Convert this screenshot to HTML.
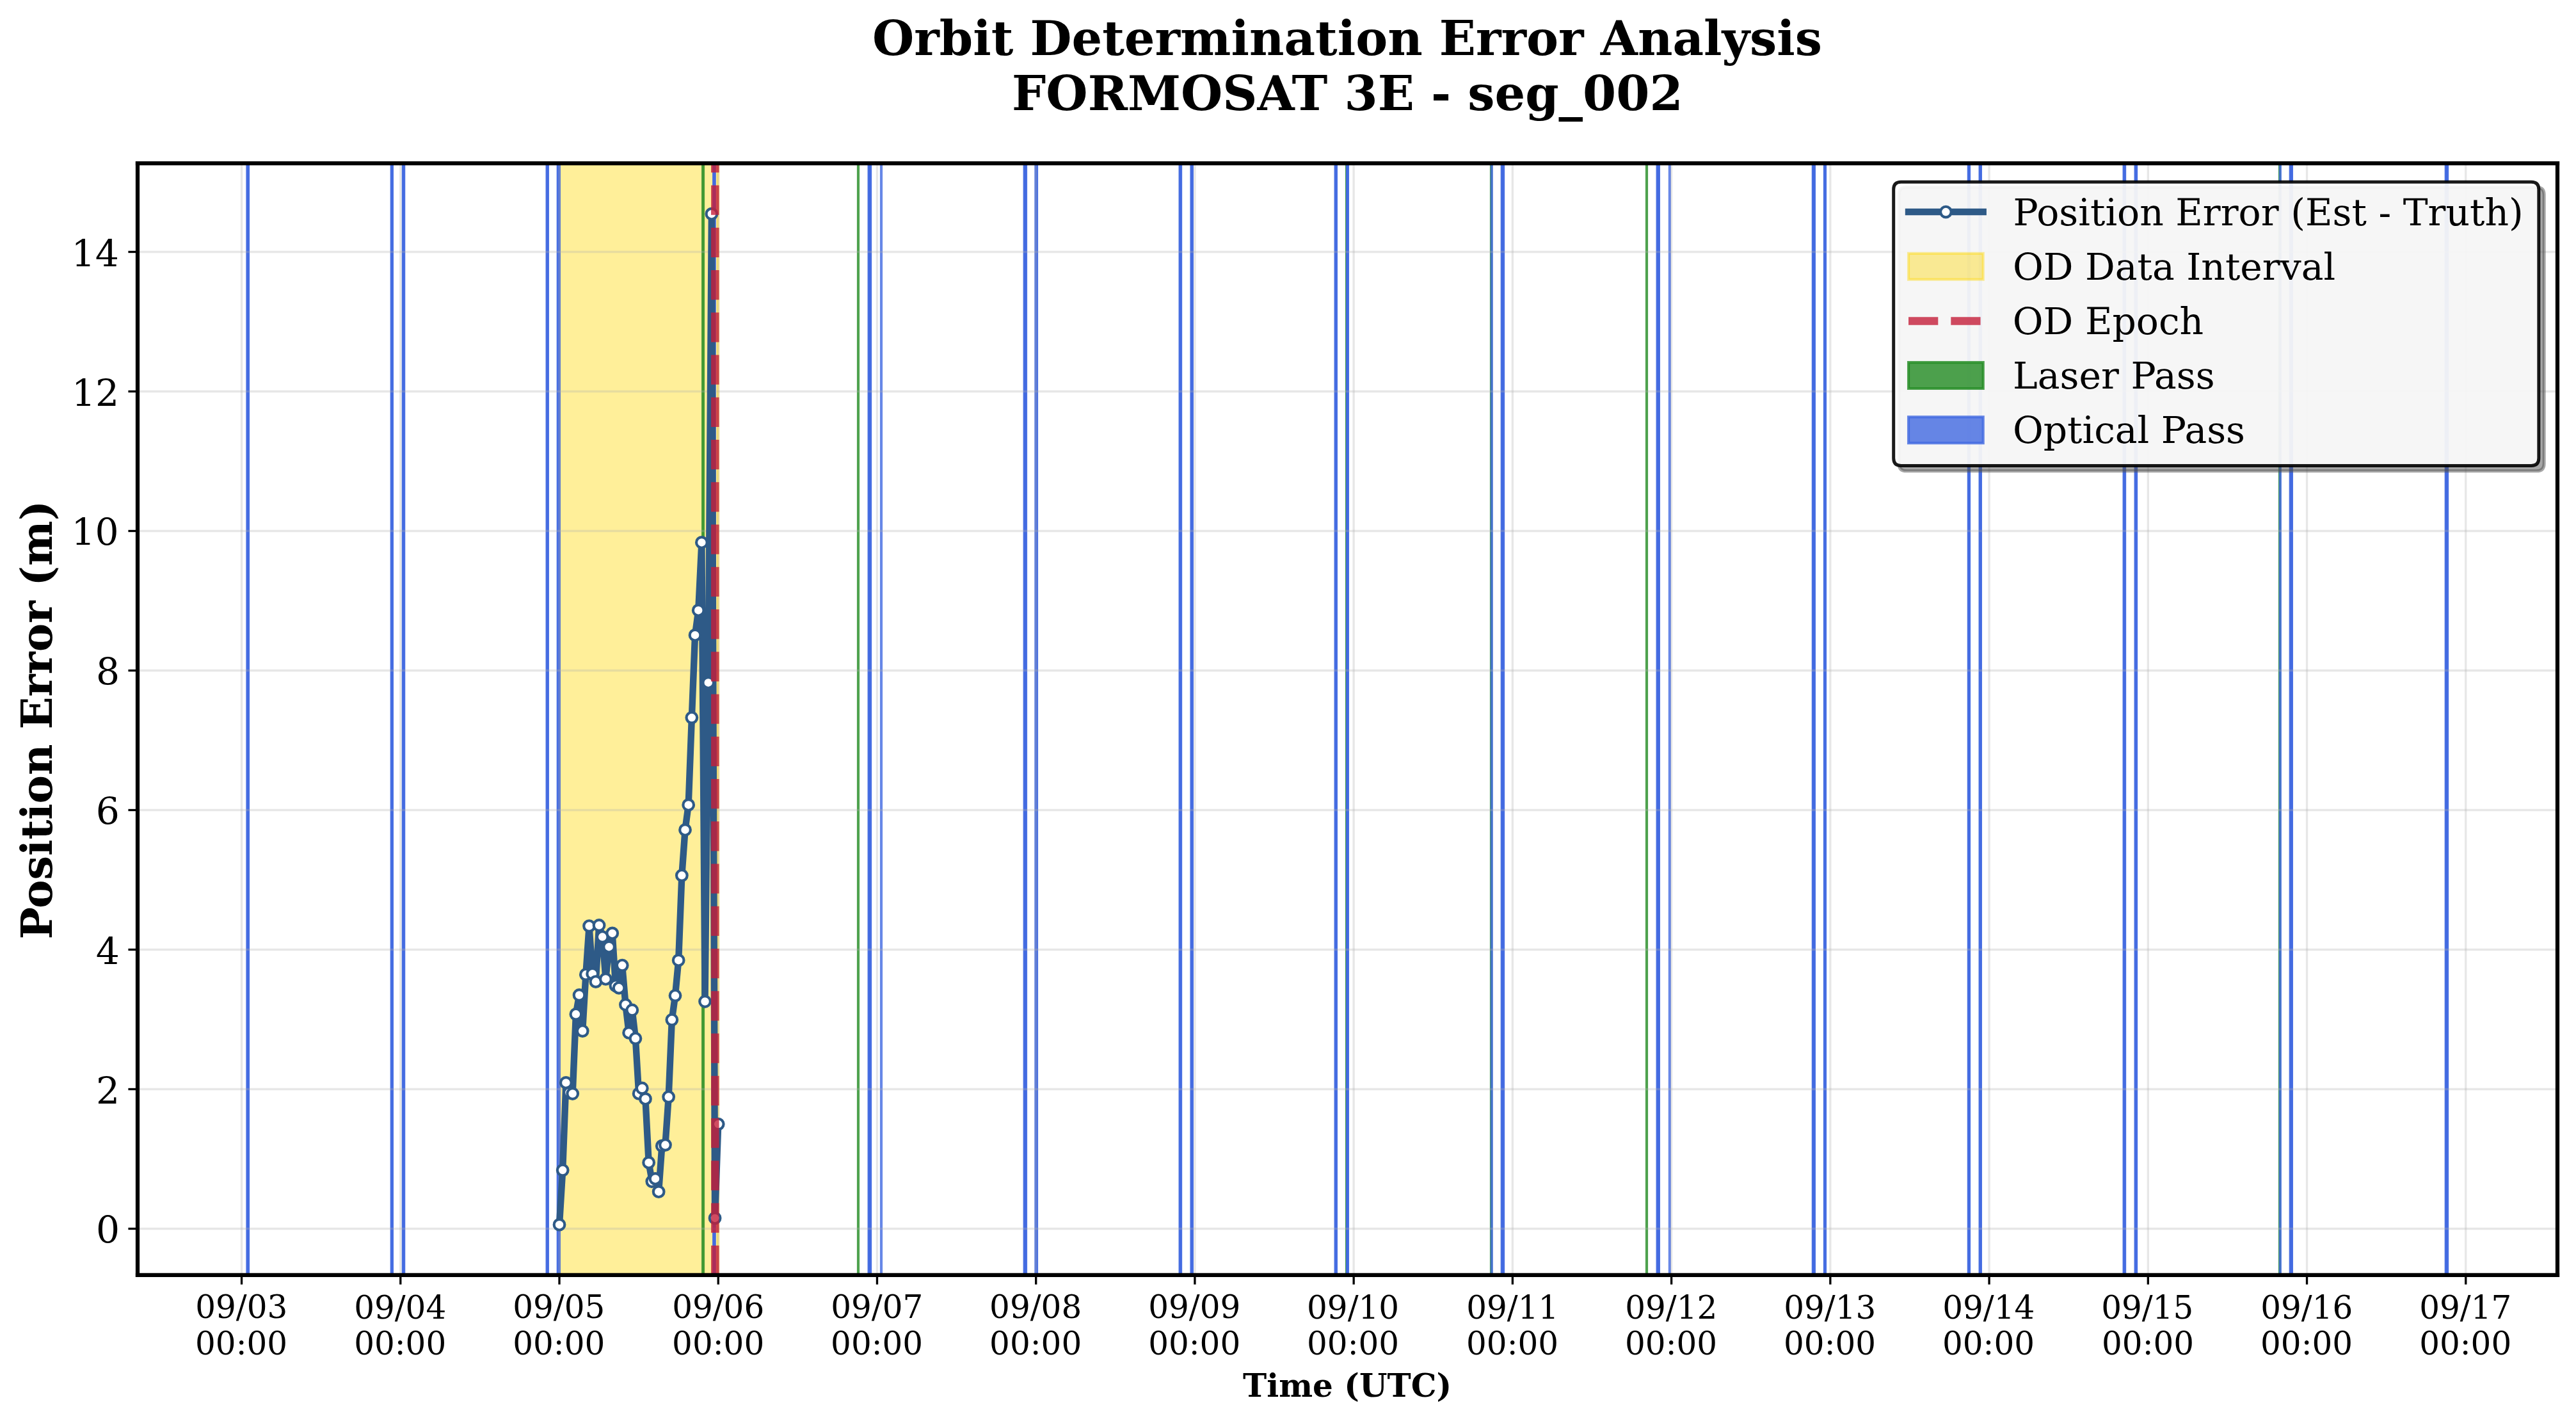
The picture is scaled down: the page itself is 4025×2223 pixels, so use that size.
<!DOCTYPE html>
<html><head><meta charset="utf-8"><title>Orbit Determination Error Analysis - FORMOSAT 3E - seg_002</title>
<style>html,body{margin:0;padding:0;background:#fff;}body{width:4025px;height:2223px;overflow:hidden;}svg{display:block;}</style>
</head><body>
<svg width="4025" height="2223" viewBox="0 0 966 533.52" version="1.1">
<defs>
<style type="text/css">*{stroke-linejoin: round; stroke-linecap: butt}</style>
</defs>
<g id="figure_1">
<g id="patch_1">
<path d="M 0 533.52
L 966 533.52
L 966 0
L 0 0
z
" style="fill: #ffffff"/>
</g>
<g id="axes_1">
<g id="patch_2">
<path d="M 51.6 478.08
L 959.04 478.08
L 959.04 61.2
L 51.6 61.2
z
" style="fill: #ffffff"/>
</g>
<g id="patch_3">
<path d="M 209.7624 478.08
L 269.3376 478.08
L 269.3376 61.2
L 209.7624 61.2
z
" clip-path="url(#pb68194b71a)" style="fill: #ffd700; fill-opacity: 0.4; stroke-opacity: 0.4; stroke: #ffd700; stroke-linejoin: miter"/>
</g>
<g id="patch_4">
<path d="M 263.54 478.08
L 263.764 478.08
L 263.764 61.2
L 263.54 61.2
z
" clip-path="url(#pb68194b71a)" style="fill: #228b22; fill-opacity: 0.8; stroke-opacity: 0.8; stroke: #228b22; stroke-linejoin: miter"/>
</g>
<g id="patch_5">
<path d="M 321.84 478.08
L 321.84 478.08
L 321.84 61.2
L 321.84 61.2
z
" clip-path="url(#pb68194b71a)" style="fill: #228b22; fill-opacity: 0.8; stroke-opacity: 0.8; stroke: #228b22; stroke-linejoin: miter"/>
</g>
<g id="patch_6">
<path d="M 504.96 478.08
L 504.96 478.08
L 504.96 61.2
L 504.96 61.2
z
" clip-path="url(#pb68194b71a)" style="fill: #228b22; fill-opacity: 0.8; stroke-opacity: 0.8; stroke: #228b22; stroke-linejoin: miter"/>
</g>
<g id="patch_7">
<path d="M 559.2 478.08
L 559.2 478.08
L 559.2 61.2
L 559.2 61.2
z
" clip-path="url(#pb68194b71a)" style="fill: #228b22; fill-opacity: 0.8; stroke-opacity: 0.8; stroke: #228b22; stroke-linejoin: miter"/>
</g>
<g id="patch_8">
<path d="M 617.52 478.08
L 617.52 478.08
L 617.52 61.2
L 617.52 61.2
z
" clip-path="url(#pb68194b71a)" style="fill: #228b22; fill-opacity: 0.8; stroke-opacity: 0.8; stroke: #228b22; stroke-linejoin: miter"/>
</g>
<g id="patch_9">
<path d="M 854.88 478.08
L 854.88 478.08
L 854.88 61.2
L 854.88 61.2
z
" clip-path="url(#pb68194b71a)" style="fill: #228b22; fill-opacity: 0.8; stroke-opacity: 0.8; stroke: #228b22; stroke-linejoin: miter"/>
</g>
<g id="patch_10">
<path d="M 92.792 478.08
L 93.112 478.08
L 93.112 61.2
L 92.792 61.2
z
" clip-path="url(#pb68194b71a)" style="fill: #4169e1; fill-opacity: 0.8; stroke-opacity: 0.8; stroke: #4169e1; stroke-linejoin: miter"/>
</g>
<g id="patch_11">
<path d="M 92.792 478.08
L 93.112 478.08
L 93.112 61.2
L 92.792 61.2
z
" clip-path="url(#pb68194b71a)" style="fill: #4169e1; fill-opacity: 0.8; stroke-opacity: 0.8; stroke: #4169e1; stroke-linejoin: miter"/>
</g>
<g id="patch_12">
<path d="M 146.852 478.08
L 147.1 478.08
L 147.1 61.2
L 146.852 61.2
z
" clip-path="url(#pb68194b71a)" style="fill: #4169e1; fill-opacity: 0.8; stroke-opacity: 0.8; stroke: #4169e1; stroke-linejoin: miter"/>
</g>
<g id="patch_13">
<path d="M 146.852 478.08
L 147.1 478.08
L 147.1 61.2
L 146.852 61.2
z
" clip-path="url(#pb68194b71a)" style="fill: #4169e1; fill-opacity: 0.8; stroke-opacity: 0.8; stroke: #4169e1; stroke-linejoin: miter"/>
</g>
<g id="patch_14">
<path d="M 151.184 478.08
L 151.456 478.08
L 151.456 61.2
L 151.184 61.2
z
" clip-path="url(#pb68194b71a)" style="fill: #4169e1; fill-opacity: 0.8; stroke-opacity: 0.8; stroke: #4169e1; stroke-linejoin: miter"/>
</g>
<g id="patch_15">
<path d="M 151.184 478.08
L 151.456 478.08
L 151.456 61.2
L 151.184 61.2
z
" clip-path="url(#pb68194b71a)" style="fill: #4169e1; fill-opacity: 0.8; stroke-opacity: 0.8; stroke: #4169e1; stroke-linejoin: miter"/>
</g>
<g id="patch_16">
<path d="M 205.148 478.08
L 205.396 478.08
L 205.396 61.2
L 205.148 61.2
z
" clip-path="url(#pb68194b71a)" style="fill: #4169e1; fill-opacity: 0.8; stroke-opacity: 0.8; stroke: #4169e1; stroke-linejoin: miter"/>
</g>
<g id="patch_17">
<path d="M 205.148 478.08
L 205.396 478.08
L 205.396 61.2
L 205.148 61.2
z
" clip-path="url(#pb68194b71a)" style="fill: #4169e1; fill-opacity: 0.8; stroke-opacity: 0.8; stroke: #4169e1; stroke-linejoin: miter"/>
</g>
<g id="patch_18">
<path d="M 209.252 478.08
L 209.74 478.08
L 209.74 61.2
L 209.252 61.2
z
" clip-path="url(#pb68194b71a)" style="fill: #4169e1; fill-opacity: 0.8; stroke-opacity: 0.8; stroke: #4169e1; stroke-linejoin: miter"/>
</g>
<g id="patch_19">
<path d="M 209.252 478.08
L 209.74 478.08
L 209.74 61.2
L 209.252 61.2
z
" clip-path="url(#pb68194b71a)" style="fill: #4169e1; fill-opacity: 0.8; stroke-opacity: 0.8; stroke: #4169e1; stroke-linejoin: miter"/>
</g>
<g id="patch_20">
<path d="M 267.656 478.08
L 267.976 478.08
L 267.976 61.2
L 267.656 61.2
z
" clip-path="url(#pb68194b71a)" style="fill: #4169e1; fill-opacity: 0.8; stroke-opacity: 0.8; stroke: #4169e1; stroke-linejoin: miter"/>
</g>
<g id="patch_21">
<path d="M 267.656 478.08
L 267.976 478.08
L 267.976 61.2
L 267.656 61.2
z
" clip-path="url(#pb68194b71a)" style="fill: #4169e1; fill-opacity: 0.8; stroke-opacity: 0.8; stroke: #4169e1; stroke-linejoin: miter"/>
</g>
<g id="patch_22">
<path d="M 325.868 478.08
L 326.404 478.08
L 326.404 61.2
L 325.868 61.2
z
" clip-path="url(#pb68194b71a)" style="fill: #4169e1; fill-opacity: 0.8; stroke-opacity: 0.8; stroke: #4169e1; stroke-linejoin: miter"/>
</g>
<g id="patch_23">
<path d="M 325.868 478.08
L 326.404 478.08
L 326.404 61.2
L 325.868 61.2
z
" clip-path="url(#pb68194b71a)" style="fill: #4169e1; fill-opacity: 0.8; stroke-opacity: 0.8; stroke: #4169e1; stroke-linejoin: miter"/>
</g>
<g id="patch_24">
<path d="M 330.48 478.08
L 330.48 478.08
L 330.48 61.2
L 330.48 61.2
z
" clip-path="url(#pb68194b71a)" style="fill: #4169e1; fill-opacity: 0.8; stroke-opacity: 0.8; stroke: #4169e1; stroke-linejoin: miter"/>
</g>
<g id="patch_25">
<path d="M 384.2 478.08
L 384.712 478.08
L 384.712 61.2
L 384.2 61.2
z
" clip-path="url(#pb68194b71a)" style="fill: #4169e1; fill-opacity: 0.8; stroke-opacity: 0.8; stroke: #4169e1; stroke-linejoin: miter"/>
</g>
<g id="patch_26">
<path d="M 384.2 478.08
L 384.712 478.08
L 384.712 61.2
L 384.2 61.2
z
" clip-path="url(#pb68194b71a)" style="fill: #4169e1; fill-opacity: 0.8; stroke-opacity: 0.8; stroke: #4169e1; stroke-linejoin: miter"/>
</g>
<g id="patch_27">
<path d="M 388.472 478.08
L 388.792 478.08
L 388.792 61.2
L 388.472 61.2
z
" clip-path="url(#pb68194b71a)" style="fill: #4169e1; fill-opacity: 0.8; stroke-opacity: 0.8; stroke: #4169e1; stroke-linejoin: miter"/>
</g>
<g id="patch_28">
<path d="M 388.472 478.08
L 388.792 478.08
L 388.792 61.2
L 388.472 61.2
z
" clip-path="url(#pb68194b71a)" style="fill: #4169e1; fill-opacity: 0.8; stroke-opacity: 0.8; stroke: #4169e1; stroke-linejoin: miter"/>
</g>
<g id="patch_29">
<path d="M 442.508 478.08
L 442.804 478.08
L 442.804 61.2
L 442.508 61.2
z
" clip-path="url(#pb68194b71a)" style="fill: #4169e1; fill-opacity: 0.8; stroke-opacity: 0.8; stroke: #4169e1; stroke-linejoin: miter"/>
</g>
<g id="patch_30">
<path d="M 442.508 478.08
L 442.804 478.08
L 442.804 61.2
L 442.508 61.2
z
" clip-path="url(#pb68194b71a)" style="fill: #4169e1; fill-opacity: 0.8; stroke-opacity: 0.8; stroke: #4169e1; stroke-linejoin: miter"/>
</g>
<g id="patch_31">
<path d="M 446.804 478.08
L 447.076 478.08
L 447.076 61.2
L 446.804 61.2
z
" clip-path="url(#pb68194b71a)" style="fill: #4169e1; fill-opacity: 0.8; stroke-opacity: 0.8; stroke: #4169e1; stroke-linejoin: miter"/>
</g>
<g id="patch_32">
<path d="M 446.804 478.08
L 447.076 478.08
L 447.076 61.2
L 446.804 61.2
z
" clip-path="url(#pb68194b71a)" style="fill: #4169e1; fill-opacity: 0.8; stroke-opacity: 0.8; stroke: #4169e1; stroke-linejoin: miter"/>
</g>
<g id="patch_33">
<path d="M 500.828 478.08
L 501.1 478.08
L 501.1 61.2
L 500.828 61.2
z
" clip-path="url(#pb68194b71a)" style="fill: #4169e1; fill-opacity: 0.8; stroke-opacity: 0.8; stroke: #4169e1; stroke-linejoin: miter"/>
</g>
<g id="patch_34">
<path d="M 500.828 478.08
L 501.1 478.08
L 501.1 61.2
L 500.828 61.2
z
" clip-path="url(#pb68194b71a)" style="fill: #4169e1; fill-opacity: 0.8; stroke-opacity: 0.8; stroke: #4169e1; stroke-linejoin: miter"/>
</g>
<g id="patch_35">
<path d="M 505.22 478.08
L 505.42 478.08
L 505.42 61.2
L 505.22 61.2
z
" clip-path="url(#pb68194b71a)" style="fill: #4169e1; fill-opacity: 0.8; stroke-opacity: 0.8; stroke: #4169e1; stroke-linejoin: miter"/>
</g>
<g id="patch_36">
<path d="M 505.22 478.08
L 505.42 478.08
L 505.42 61.2
L 505.22 61.2
z
" clip-path="url(#pb68194b71a)" style="fill: #4169e1; fill-opacity: 0.8; stroke-opacity: 0.8; stroke: #4169e1; stroke-linejoin: miter"/>
</g>
<g id="patch_37">
<path d="M 559.388 478.08
L 559.396 478.08
L 559.396 61.2
L 559.388 61.2
z
" clip-path="url(#pb68194b71a)" style="fill: #4169e1; fill-opacity: 0.8; stroke-opacity: 0.8; stroke: #4169e1; stroke-linejoin: miter"/>
</g>
<g id="patch_38">
<path d="M 563.252 478.08
L 563.764 478.08
L 563.764 61.2
L 563.252 61.2
z
" clip-path="url(#pb68194b71a)" style="fill: #4169e1; fill-opacity: 0.8; stroke-opacity: 0.8; stroke: #4169e1; stroke-linejoin: miter"/>
</g>
<g id="patch_39">
<path d="M 563.252 478.08
L 563.764 478.08
L 563.764 61.2
L 563.252 61.2
z
" clip-path="url(#pb68194b71a)" style="fill: #4169e1; fill-opacity: 0.8; stroke-opacity: 0.8; stroke: #4169e1; stroke-linejoin: miter"/>
</g>
<g id="patch_40">
<path d="M 621.548 478.08
L 622.06 478.08
L 622.06 61.2
L 621.548 61.2
z
" clip-path="url(#pb68194b71a)" style="fill: #4169e1; fill-opacity: 0.8; stroke-opacity: 0.8; stroke: #4169e1; stroke-linejoin: miter"/>
</g>
<g id="patch_41">
<path d="M 621.548 478.08
L 622.06 478.08
L 622.06 61.2
L 621.548 61.2
z
" clip-path="url(#pb68194b71a)" style="fill: #4169e1; fill-opacity: 0.8; stroke-opacity: 0.8; stroke: #4169e1; stroke-linejoin: miter"/>
</g>
<g id="patch_42">
<path d="M 626.124 478.08
L 626.124 478.08
L 626.124 61.2
L 626.124 61.2
z
" clip-path="url(#pb68194b71a)" style="fill: #4169e1; fill-opacity: 0.8; stroke-opacity: 0.8; stroke: #4169e1; stroke-linejoin: miter"/>
</g>
<g id="patch_43">
<path d="M 679.904 478.08
L 680.368 478.08
L 680.368 61.2
L 679.904 61.2
z
" clip-path="url(#pb68194b71a)" style="fill: #4169e1; fill-opacity: 0.8; stroke-opacity: 0.8; stroke: #4169e1; stroke-linejoin: miter"/>
</g>
<g id="patch_44">
<path d="M 679.904 478.08
L 680.368 478.08
L 680.368 61.2
L 679.904 61.2
z
" clip-path="url(#pb68194b71a)" style="fill: #4169e1; fill-opacity: 0.8; stroke-opacity: 0.8; stroke: #4169e1; stroke-linejoin: miter"/>
</g>
<g id="patch_45">
<path d="M 684.248 478.08
L 684.472 478.08
L 684.472 61.2
L 684.248 61.2
z
" clip-path="url(#pb68194b71a)" style="fill: #4169e1; fill-opacity: 0.8; stroke-opacity: 0.8; stroke: #4169e1; stroke-linejoin: miter"/>
</g>
<g id="patch_46">
<path d="M 684.248 478.08
L 684.472 478.08
L 684.472 61.2
L 684.248 61.2
z
" clip-path="url(#pb68194b71a)" style="fill: #4169e1; fill-opacity: 0.8; stroke-opacity: 0.8; stroke: #4169e1; stroke-linejoin: miter"/>
</g>
<g id="patch_47">
<path d="M 738.224 478.08
L 738.472 478.08
L 738.472 61.2
L 738.224 61.2
z
" clip-path="url(#pb68194b71a)" style="fill: #4169e1; fill-opacity: 0.8; stroke-opacity: 0.8; stroke: #4169e1; stroke-linejoin: miter"/>
</g>
<g id="patch_48">
<path d="M 738.224 478.08
L 738.472 478.08
L 738.472 61.2
L 738.224 61.2
z
" clip-path="url(#pb68194b71a)" style="fill: #4169e1; fill-opacity: 0.8; stroke-opacity: 0.8; stroke: #4169e1; stroke-linejoin: miter"/>
</g>
<g id="patch_49">
<path d="M 742.508 478.08
L 742.78 478.08
L 742.78 61.2
L 742.508 61.2
z
" clip-path="url(#pb68194b71a)" style="fill: #4169e1; fill-opacity: 0.8; stroke-opacity: 0.8; stroke: #4169e1; stroke-linejoin: miter"/>
</g>
<g id="patch_50">
<path d="M 742.508 478.08
L 742.78 478.08
L 742.78 61.2
L 742.508 61.2
z
" clip-path="url(#pb68194b71a)" style="fill: #4169e1; fill-opacity: 0.8; stroke-opacity: 0.8; stroke: #4169e1; stroke-linejoin: miter"/>
</g>
<g id="patch_51">
<path d="M 796.508 478.08
L 796.804 478.08
L 796.804 61.2
L 796.508 61.2
z
" clip-path="url(#pb68194b71a)" style="fill: #4169e1; fill-opacity: 0.8; stroke-opacity: 0.8; stroke: #4169e1; stroke-linejoin: miter"/>
</g>
<g id="patch_52">
<path d="M 796.508 478.08
L 796.804 478.08
L 796.804 61.2
L 796.508 61.2
z
" clip-path="url(#pb68194b71a)" style="fill: #4169e1; fill-opacity: 0.8; stroke-opacity: 0.8; stroke: #4169e1; stroke-linejoin: miter"/>
</g>
<g id="patch_53">
<path d="M 800.828 478.08
L 801.124 478.08
L 801.124 61.2
L 800.828 61.2
z
" clip-path="url(#pb68194b71a)" style="fill: #4169e1; fill-opacity: 0.8; stroke-opacity: 0.8; stroke: #4169e1; stroke-linejoin: miter"/>
</g>
<g id="patch_54">
<path d="M 800.828 478.08
L 801.124 478.08
L 801.124 61.2
L 800.828 61.2
z
" clip-path="url(#pb68194b71a)" style="fill: #4169e1; fill-opacity: 0.8; stroke-opacity: 0.8; stroke: #4169e1; stroke-linejoin: miter"/>
</g>
<g id="patch_55">
<path d="M 855.092 478.08
L 855.1 478.08
L 855.1 61.2
L 855.092 61.2
z
" clip-path="url(#pb68194b71a)" style="fill: #4169e1; fill-opacity: 0.8; stroke-opacity: 0.8; stroke: #4169e1; stroke-linejoin: miter"/>
</g>
<g id="patch_56">
<path d="M 858.932 478.08
L 859.42 478.08
L 859.42 61.2
L 858.932 61.2
z
" clip-path="url(#pb68194b71a)" style="fill: #4169e1; fill-opacity: 0.8; stroke-opacity: 0.8; stroke: #4169e1; stroke-linejoin: miter"/>
</g>
<g id="patch_57">
<path d="M 858.932 478.08
L 859.42 478.08
L 859.42 61.2
L 858.932 61.2
z
" clip-path="url(#pb68194b71a)" style="fill: #4169e1; fill-opacity: 0.8; stroke-opacity: 0.8; stroke: #4169e1; stroke-linejoin: miter"/>
</g>
<g id="patch_58">
<path d="M 917.252 478.08
L 917.764 478.08
L 917.764 61.2
L 917.252 61.2
z
" clip-path="url(#pb68194b71a)" style="fill: #4169e1; fill-opacity: 0.8; stroke-opacity: 0.8; stroke: #4169e1; stroke-linejoin: miter"/>
</g>
<g id="patch_59">
<path d="M 917.252 478.08
L 917.764 478.08
L 917.764 61.2
L 917.252 61.2
z
" clip-path="url(#pb68194b71a)" style="fill: #4169e1; fill-opacity: 0.8; stroke-opacity: 0.8; stroke: #4169e1; stroke-linejoin: miter"/>
</g>
<g id="matplotlib.axis_1">
<g id="xtick_1">
<g id="line2d_1">
<path d="M 90.612 478.08
L 90.612 61.2
" clip-path="url(#pb68194b71a)" style="fill: none; stroke: #b0b0b0; stroke-opacity: 0.3; stroke-width: 0.8; stroke-linecap: square"/>
</g>
<g id="line2d_2">
<g>
<path d="M 0 0
L 0 3.5
" transform="translate(90.612 478.08)" style="stroke: #000000; stroke-width: 0.8"/>
</g>
</g>
<g id="xt0">
<g transform="translate(-0.1080 -0.2400)"><text style="font-size: 12px; font-family: 'DejaVu Serif', serif" transform="translate(73.347 494.30875)">09/03</text></g>
<g transform="translate(-0.1320 -0.2400)"><text style="font-size: 12px; font-family: 'DejaVu Serif', serif" transform="translate(73.347 508.02325)">00:00</text></g>
</g>
</g>
<g id="xtick_2">
<g id="line2d_3">
<path d="M 150.1872 478.08
L 150.1872 61.2
" clip-path="url(#pb68194b71a)" style="fill: none; stroke: #b0b0b0; stroke-opacity: 0.3; stroke-width: 0.8; stroke-linecap: square"/>
</g>
<g id="line2d_4">
<g>
<path d="M 0 0
L 0 3.5
" transform="translate(150.1872 478.08)" style="stroke: #000000; stroke-width: 0.8"/>
</g>
</g>
<g id="xt1">
<g transform="translate(-0.1680 -0.0000)"><text style="font-size: 12px; font-family: 'DejaVu Serif', serif" transform="translate(132.9222 494.30875)">09/04</text></g>
<g transform="translate(-0.1680 -0.2400)"><text style="font-size: 12px; font-family: 'DejaVu Serif', serif" transform="translate(132.9222 508.02325)">00:00</text></g>
</g>
</g>
<g id="xtick_3">
<g id="line2d_5">
<path d="M 209.7624 478.08
L 209.7624 61.2
" clip-path="url(#pb68194b71a)" style="fill: none; stroke: #b0b0b0; stroke-opacity: 0.3; stroke-width: 0.8; stroke-linecap: square"/>
</g>
<g id="line2d_6">
<g>
<path d="M 0 0
L 0 3.5
" transform="translate(209.7624 478.08)" style="stroke: #000000; stroke-width: 0.8"/>
</g>
</g>
<g id="xt2">
<g transform="translate(-0.1920 -0.2400)"><text style="font-size: 12px; font-family: 'DejaVu Serif', serif" transform="translate(192.4824 494.30875)">09/05</text></g>
<g transform="translate(-0.2160 -0.2400)"><text style="font-size: 12px; font-family: 'DejaVu Serif', serif" transform="translate(192.4974 508.02325)">00:00</text></g>
</g>
</g>
<g id="xtick_4">
<g id="line2d_7">
<path d="M 269.3376 478.08
L 269.3376 61.2
" clip-path="url(#pb68194b71a)" style="fill: none; stroke: #b0b0b0; stroke-opacity: 0.3; stroke-width: 0.8; stroke-linecap: square"/>
</g>
<g id="line2d_8">
<g>
<path d="M 0 0
L 0 3.5
" transform="translate(269.3376 478.08)" style="stroke: #000000; stroke-width: 0.8"/>
</g>
</g>
<g id="xt3">
<g transform="translate(-0.0360 -0.2400)"><text style="font-size: 12px; font-family: 'DejaVu Serif', serif" transform="translate(252.0726 494.30875)">09/06</text></g>
<g transform="translate(-0.0480 -0.2400)"><text style="font-size: 12px; font-family: 'DejaVu Serif', serif" transform="translate(252.0726 508.02325)">00:00</text></g>
</g>
</g>
<g id="xtick_5">
<g id="line2d_9">
<path d="M 328.9128 478.08
L 328.9128 61.2
" clip-path="url(#pb68194b71a)" style="fill: none; stroke: #b0b0b0; stroke-opacity: 0.3; stroke-width: 0.8; stroke-linecap: square"/>
</g>
<g id="line2d_10">
<g>
<path d="M 0 0
L 0 3.5
" transform="translate(328.9128 478.08)" style="stroke: #000000; stroke-width: 0.8"/>
</g>
</g>
<g id="xt4">
<g transform="translate(-0.0720 -0.2400)"><text style="font-size: 12px; font-family: 'DejaVu Serif', serif" transform="translate(311.6328 494.30875)">09/07</text></g>
<g transform="translate(-0.1080 -0.2400)"><text style="font-size: 12px; font-family: 'DejaVu Serif', serif" transform="translate(311.6478 508.02325)">00:00</text></g>
</g>
</g>
<g id="xtick_6">
<g id="line2d_11">
<path d="M 388.488 478.08
L 388.488 61.2
" clip-path="url(#pb68194b71a)" style="fill: none; stroke: #b0b0b0; stroke-opacity: 0.3; stroke-width: 0.8; stroke-linecap: square"/>
</g>
<g id="line2d_12">
<g>
<path d="M 0 0
L 0 3.5
" transform="translate(388.488 478.08)" style="stroke: #000000; stroke-width: 0.8"/>
</g>
</g>
<g id="xt5">
<g transform="translate(-0.1440 -0.2400)"><text style="font-size: 12px; font-family: 'DejaVu Serif', serif" transform="translate(371.208 494.30875)">09/08</text></g>
<g transform="translate(-0.1560 -0.2400)"><text style="font-size: 12px; font-family: 'DejaVu Serif', serif" transform="translate(371.223 508.02325)">00:00</text></g>
</g>
</g>
<g id="xtick_7">
<g id="line2d_13">
<path d="M 448.0632 478.08
L 448.0632 61.2
" clip-path="url(#pb68194b71a)" style="fill: none; stroke: #b0b0b0; stroke-opacity: 0.3; stroke-width: 0.8; stroke-linecap: square"/>
</g>
<g id="line2d_14">
<g>
<path d="M 0 0
L 0 3.5
" transform="translate(448.0632 478.08)" style="stroke: #000000; stroke-width: 0.8"/>
</g>
</g>
<g id="xt6">
<g transform="translate(-0.1920 -0.2400)"><text style="font-size: 12px; font-family: 'DejaVu Serif', serif" transform="translate(430.7982 494.30875)">09/09</text></g>
<g transform="translate(-0.2040 -0.2400)"><text style="font-size: 12px; font-family: 'DejaVu Serif', serif" transform="translate(430.7982 508.02325)">00:00</text></g>
</g>
</g>
<g id="xtick_8">
<g id="line2d_15">
<path d="M 507.6384 478.08
L 507.6384 61.2
" clip-path="url(#pb68194b71a)" style="fill: none; stroke: #b0b0b0; stroke-opacity: 0.3; stroke-width: 0.8; stroke-linecap: square"/>
</g>
<g id="line2d_16">
<g>
<path d="M 0 0
L 0 3.5
" transform="translate(507.6384 478.08)" style="stroke: #000000; stroke-width: 0.8"/>
</g>
</g>
<g id="xt7">
<g transform="translate(-0.2760 -0.0000)"><text style="font-size: 12px; font-family: 'DejaVu Serif', serif" transform="translate(490.3584 494.30875)">09/10</text></g>
<g transform="translate(-0.2880 -0.2400)"><text style="font-size: 12px; font-family: 'DejaVu Serif', serif" transform="translate(490.3734 508.02325)">00:00</text></g>
</g>
</g>
<g id="xtick_9">
<g id="line2d_17">
<path d="M 567.2136 478.08
L 567.2136 61.2
" clip-path="url(#pb68194b71a)" style="fill: none; stroke: #b0b0b0; stroke-opacity: 0.3; stroke-width: 0.8; stroke-linecap: square"/>
</g>
<g id="line2d_18">
<g>
<path d="M 0 0
L 0 3.5
" transform="translate(567.2136 478.08)" style="stroke: #000000; stroke-width: 0.8"/>
</g>
</g>
<g id="xt8">
<g transform="translate(-0.0360 -0.0000)"><text style="font-size: 12px; font-family: 'DejaVu Serif', serif" transform="translate(549.9186 494.30875)">09/11</text></g>
<g transform="translate(-0.1080 -0.2400)"><text style="font-size: 12px; font-family: 'DejaVu Serif', serif" transform="translate(549.9486 508.02325)">00:00</text></g>
</g>
</g>
<g id="xtick_10">
<g id="line2d_19">
<path d="M 626.7888 478.08
L 626.7888 61.2
" clip-path="url(#pb68194b71a)" style="fill: none; stroke: #b0b0b0; stroke-opacity: 0.3; stroke-width: 0.8; stroke-linecap: square"/>
</g>
<g id="line2d_20">
<g>
<path d="M 0 0
L 0 3.5
" transform="translate(626.7888 478.08)" style="stroke: #000000; stroke-width: 0.8"/>
</g>
</g>
<g id="xt9">
<g transform="translate(-0.0960 -0.0000)"><text style="font-size: 12px; font-family: 'DejaVu Serif', serif" transform="translate(609.5088 494.30875)">09/12</text></g>
<g transform="translate(-0.1560 -0.2400)"><text style="font-size: 12px; font-family: 'DejaVu Serif', serif" transform="translate(609.5238 508.02325)">00:00</text></g>
</g>
</g>
<g id="xtick_11">
<g id="line2d_21">
<path d="M 686.364 478.08
L 686.364 61.2
" clip-path="url(#pb68194b71a)" style="fill: none; stroke: #b0b0b0; stroke-opacity: 0.3; stroke-width: 0.8; stroke-linecap: square"/>
</g>
<g id="line2d_22">
<g>
<path d="M 0 0
L 0 3.5
" transform="translate(686.364 478.08)" style="stroke: #000000; stroke-width: 0.8"/>
</g>
</g>
<g id="xt10">
<g transform="translate(-0.1560 -0.0000)"><text style="font-size: 12px; font-family: 'DejaVu Serif', serif" transform="translate(669.084 494.30875)">09/13</text></g>
<g transform="translate(-0.2040 -0.2400)"><text style="font-size: 12px; font-family: 'DejaVu Serif', serif" transform="translate(669.099 508.02325)">00:00</text></g>
</g>
</g>
<g id="xtick_12">
<g id="line2d_23">
<path d="M 745.9392 478.08
L 745.9392 61.2
" clip-path="url(#pb68194b71a)" style="fill: none; stroke: #b0b0b0; stroke-opacity: 0.3; stroke-width: 0.8; stroke-linecap: square"/>
</g>
<g id="line2d_24">
<g>
<path d="M 0 0
L 0 3.5
" transform="translate(745.9392 478.08)" style="stroke: #000000; stroke-width: 0.8"/>
</g>
</g>
<g id="xt11">
<g transform="translate(-0.2160 -0.0000)"><text style="font-size: 12px; font-family: 'DejaVu Serif', serif" transform="translate(728.6592 494.30875)">09/14</text></g>
<g transform="translate(-0.2760 -0.2400)"><text style="font-size: 12px; font-family: 'DejaVu Serif', serif" transform="translate(728.6742 508.02325)">00:00</text></g>
</g>
</g>
<g id="xtick_13">
<g id="line2d_25">
<path d="M 805.5144 478.08
L 805.5144 61.2
" clip-path="url(#pb68194b71a)" style="fill: none; stroke: #b0b0b0; stroke-opacity: 0.3; stroke-width: 0.8; stroke-linecap: square"/>
</g>
<g id="line2d_26">
<g>
<path d="M 0 0
L 0 3.5
" transform="translate(805.5144 478.08)" style="stroke: #000000; stroke-width: 0.8"/>
</g>
</g>
<g id="xt12">
<g transform="translate(-0.2640 -0.0000)"><text style="font-size: 12px; font-family: 'DejaVu Serif', serif" transform="translate(788.2194 494.30875)">09/15</text></g>
<g transform="translate(-0.0840 -0.2400)"><text style="font-size: 12px; font-family: 'DejaVu Serif', serif" transform="translate(788.2494 508.02325)">00:00</text></g>
</g>
</g>
<g id="xtick_14">
<g id="line2d_27">
<path d="M 865.0896 478.08
L 865.0896 61.2
" clip-path="url(#pb68194b71a)" style="fill: none; stroke: #b0b0b0; stroke-opacity: 0.3; stroke-width: 0.8; stroke-linecap: square"/>
</g>
<g id="line2d_28">
<g>
<path d="M 0 0
L 0 3.5
" transform="translate(865.0896 478.08)" style="stroke: #000000; stroke-width: 0.8"/>
</g>
</g>
<g id="xt13">
<g transform="translate(-0.0720 -0.0000)"><text style="font-size: 12px; font-family: 'DejaVu Serif', serif" transform="translate(847.8096 494.30875)">09/16</text></g>
<g transform="translate(-0.1320 -0.2400)"><text style="font-size: 12px; font-family: 'DejaVu Serif', serif" transform="translate(847.8246 508.02325)">00:00</text></g>
</g>
</g>
<g id="xtick_15">
<g id="line2d_29">
<path d="M 924.6648 478.08
L 924.6648 61.2
" clip-path="url(#pb68194b71a)" style="fill: none; stroke: #b0b0b0; stroke-opacity: 0.3; stroke-width: 0.8; stroke-linecap: square"/>
</g>
<g id="line2d_30">
<g>
<path d="M 0 0
L 0 3.5
" transform="translate(924.6648 478.08)" style="stroke: #000000; stroke-width: 0.8"/>
</g>
</g>
<g id="xt14">
<g transform="translate(-0.1320 -0.0000)"><text style="font-size: 12px; font-family: 'DejaVu Serif', serif" transform="translate(907.3698 494.30875)">09/17</text></g>
<g transform="translate(-0.1680 -0.2400)"><text style="font-size: 12px; font-family: 'DejaVu Serif', serif" transform="translate(907.3998 508.02325)">00:00</text></g>
</g>
</g>
<g id="xl">
<g transform="translate(-0.0960 -0.0120)"><text style="font-weight: 700; font-size: 12px; font-family: 'DejaVu Serif', serif; text-anchor: middle" x="505.32" y="523.78325" transform="rotate(-0 505.32 523.78325)">Time (UTC)</text></g>
</g>
</g>
<g id="matplotlib.axis_2">
<g id="ytick_1">
<g id="line2d_31">
<path d="M 51.6 460.68
L 959.04 460.68
" clip-path="url(#pb68194b71a)" style="fill: none; stroke: #b0b0b0; stroke-opacity: 0.3; stroke-width: 0.8; stroke-linecap: square"/>
</g>
<g id="line2d_32">
<g>
<path d="M 0 0
L -3.5 0
" transform="translate(51.6 460.68)" style="stroke: #000000; stroke-width: 0.8"/>
</g>
</g>
<g id="yt0">
<g transform="translate(0.2880 -0.0000)"><text style="font-size: 14px; font-family: 'DejaVu Serif', serif; text-anchor: end" x="44.6" y="465.96" transform="rotate(-0 44.6 465.96)">0</text></g>
</g>
</g>
<g id="ytick_2">
<g id="line2d_33">
<path d="M 51.6 408.36
L 959.04 408.36
" clip-path="url(#pb68194b71a)" style="fill: none; stroke: #b0b0b0; stroke-opacity: 0.3; stroke-width: 0.8; stroke-linecap: square"/>
</g>
<g id="line2d_34">
<g>
<path d="M 0 0
L -3.5 0
" transform="translate(51.6 408.36)" style="stroke: #000000; stroke-width: 0.8"/>
</g>
</g>
<g id="yt1">
<g transform="translate(0.3000 0.2160)"><text style="font-size: 14px; font-family: 'DejaVu Serif', serif; text-anchor: end" x="44.6" y="413.64" transform="rotate(-0 44.6 413.64)">2</text></g>
</g>
</g>
<g id="ytick_3">
<g id="line2d_35">
<path d="M 51.6 356.04
L 959.04 356.04
" clip-path="url(#pb68194b71a)" style="fill: none; stroke: #b0b0b0; stroke-opacity: 0.3; stroke-width: 0.8; stroke-linecap: square"/>
</g>
<g id="line2d_36">
<g>
<path d="M 0 0
L -3.5 0
" transform="translate(51.6 356.04)" style="stroke: #000000; stroke-width: 0.8"/>
</g>
</g>
<g id="yt2">
<g transform="translate(0.2760 0.1920)"><text style="font-size: 14px; font-family: 'DejaVu Serif', serif; text-anchor: end" x="44.6" y="361.32" transform="rotate(-0 44.6 361.32)">4</text></g>
</g>
</g>
<g id="ytick_4">
<g id="line2d_37">
<path d="M 51.6 303.72
L 959.04 303.72
" clip-path="url(#pb68194b71a)" style="fill: none; stroke: #b0b0b0; stroke-opacity: 0.3; stroke-width: 0.8; stroke-linecap: square"/>
</g>
<g id="line2d_38">
<g>
<path d="M 0 0
L -3.5 0
" transform="translate(51.6 303.72)" style="stroke: #000000; stroke-width: 0.8"/>
</g>
</g>
<g id="yt3">
<g transform="translate(0.2760 -0.1920)"><text style="font-size: 14px; font-family: 'DejaVu Serif', serif; text-anchor: end" x="44.6" y="309" transform="rotate(-0 44.6 309)">6</text></g>
</g>
</g>
<g id="ytick_5">
<g id="line2d_39">
<path d="M 51.6 251.4
L 959.04 251.4
" clip-path="url(#pb68194b71a)" style="fill: none; stroke: #b0b0b0; stroke-opacity: 0.3; stroke-width: 0.8; stroke-linecap: square"/>
</g>
<g id="line2d_40">
<g>
<path d="M 0 0
L -3.5 0
" transform="translate(51.6 251.4)" style="stroke: #000000; stroke-width: 0.8"/>
</g>
</g>
<g id="yt4">
<g transform="translate(0.2880 -0.0000)"><text style="font-size: 14px; font-family: 'DejaVu Serif', serif; text-anchor: end" x="44.6" y="256.68" transform="rotate(-0 44.6 256.68)">8</text></g>
</g>
</g>
<g id="ytick_6">
<g id="line2d_41">
<path d="M 51.6 199.08
L 959.04 199.08
" clip-path="url(#pb68194b71a)" style="fill: none; stroke: #b0b0b0; stroke-opacity: 0.3; stroke-width: 0.8; stroke-linecap: square"/>
</g>
<g id="line2d_42">
<g>
<path d="M 0 0
L -3.5 0
" transform="translate(51.6 199.08)" style="stroke: #000000; stroke-width: 0.8"/>
</g>
</g>
<g id="yt5">
<g transform="translate(-0.0360 -0.2280)"><text style="font-size: 14px; font-family: 'DejaVu Serif', serif; text-anchor: end" x="44.6" y="204.36" transform="rotate(-0 44.6 204.36)">10</text></g>
</g>
</g>
<g id="ytick_7">
<g id="line2d_43">
<path d="M 51.6 146.76
L 959.04 146.76
" clip-path="url(#pb68194b71a)" style="fill: none; stroke: #b0b0b0; stroke-opacity: 0.3; stroke-width: 0.8; stroke-linecap: square"/>
</g>
<g id="line2d_44">
<g>
<path d="M 0 0
L -3.5 0
" transform="translate(51.6 146.76)" style="stroke: #000000; stroke-width: 0.8"/>
</g>
</g>
<g id="yt6">
<g transform="translate(0.0720 0.2400)"><text style="font-size: 14px; font-family: 'DejaVu Serif', serif; text-anchor: end" x="44.6" y="152.04" transform="rotate(-0 44.6 152.04)">12</text></g>
</g>
</g>
<g id="ytick_8">
<g id="line2d_45">
<path d="M 51.6 94.44
L 959.04 94.44
" clip-path="url(#pb68194b71a)" style="fill: none; stroke: #b0b0b0; stroke-opacity: 0.3; stroke-width: 0.8; stroke-linecap: square"/>
</g>
<g id="line2d_46">
<g>
<path d="M 0 0
L -3.5 0
" transform="translate(51.6 94.44)" style="stroke: #000000; stroke-width: 0.8"/>
</g>
</g>
<g id="yt7">
<g transform="translate(-0.0000 0.0120)"><text style="font-size: 14px; font-family: 'DejaVu Serif', serif; text-anchor: end" x="44.6" y="99.72" transform="rotate(-0 44.6 99.72)">14</text></g>
</g>
</g>
<g id="yl">
<g transform="translate(0.0240 0.2640)"><text style="font-weight: 700; font-size: 16px; font-family: 'DejaVu Serif', serif; text-anchor: middle" x="19.45" y="269.64" transform="rotate(-90 19.45 269.64)">Position Error (m)</text></g>
</g>
</g>
<g id="line2d_47">
<path d="M 209.7624 459.168
L 211.00355 438.744
L 212.2447 405.936
L 213.48585 409.68
L 214.727 410.04
L 215.96815 380.232
L 217.2093 373.08
L 218.45045 386.544
L 219.6916 365.352
L 220.93275 347.184
L 222.1739 365.088
L 223.41505 368.064
L 224.6562 346.92
L 225.89735 351.264
L 227.1385 367.056
L 228.37965 355.008
L 229.6208 349.896
L 230.86195 369.552
L 232.1031 370.392
L 233.34425 361.944
L 234.5854 376.68
L 235.82655 387.216
L 237.0677 378.72
L 238.30885 389.352
L 239.55 410.016
L 240.79115 408
L 242.0323 412.008
L 243.27345 435.888
L 244.5146 442.944
L 245.75575 441.936
L 246.9969 446.808
L 248.23805 429.648
L 249.4792 429.264
L 250.72035 411.264
L 251.9615 382.344
L 253.20265 373.272
L 254.4438 360.048
L 255.68495 328.224
L 256.9261 311.136
L 258.16725 301.776
L 259.4084 269.064
L 260.64955 238.128
L 261.8907 228.816
L 263.13185 203.376
L 264.373 375.48
L 265.61415 255.936
L 266.8553 80.208
L 268.09645 456.696
L 269.3376 421.464
" clip-path="url(#pb68194b71a)" style="fill: none; stroke: #2e5a87; stroke-width: 2.5; stroke-linecap: square"/>
<g clip-path="url(#pb68194b71a)">
<path d="M 0 2
C 0.530406 2 1.03916 1.789267 1.414214 1.414214
C 1.789267 1.03916 2 0.530406 2 0
C 2 -0.530406 1.789267 -1.03916 1.414214 -1.414214
C 1.03916 -1.789267 0.530406 -2 0 -2
C -0.530406 -2 -1.03916 -1.789267 -1.414214 -1.414214
C -1.789267 -1.03916 -2 -0.530406 -2 0
C -2 0.530406 -1.789267 1.03916 -1.414214 1.414214
C -1.03916 1.789267 -0.530406 2 0 2
z
" transform="translate(209.7624 459.168)" style="fill: #ffffff; stroke: #2e5a87"/>
<path d="M 0 2
C 0.530406 2 1.03916 1.789267 1.414214 1.414214
C 1.789267 1.03916 2 0.530406 2 0
C 2 -0.530406 1.789267 -1.03916 1.414214 -1.414214
C 1.03916 -1.789267 0.530406 -2 0 -2
C -0.530406 -2 -1.03916 -1.789267 -1.414214 -1.414214
C -1.789267 -1.03916 -2 -0.530406 -2 0
C -2 0.530406 -1.789267 1.03916 -1.414214 1.414214
C -1.03916 1.789267 -0.530406 2 0 2
z
" transform="translate(211.00355 438.744)" style="fill: #ffffff; stroke: #2e5a87"/>
<path d="M 0 2
C 0.530406 2 1.03916 1.789267 1.414214 1.414214
C 1.789267 1.03916 2 0.530406 2 0
C 2 -0.530406 1.789267 -1.03916 1.414214 -1.414214
C 1.03916 -1.789267 0.530406 -2 0 -2
C -0.530406 -2 -1.03916 -1.789267 -1.414214 -1.414214
C -1.789267 -1.03916 -2 -0.530406 -2 0
C -2 0.530406 -1.789267 1.03916 -1.414214 1.414214
C -1.03916 1.789267 -0.530406 2 0 2
z
" transform="translate(212.2447 405.936)" style="fill: #ffffff; stroke: #2e5a87"/>
<path d="M 0 2
C 0.530406 2 1.03916 1.789267 1.414214 1.414214
C 1.789267 1.03916 2 0.530406 2 0
C 2 -0.530406 1.789267 -1.03916 1.414214 -1.414214
C 1.03916 -1.789267 0.530406 -2 0 -2
C -0.530406 -2 -1.03916 -1.789267 -1.414214 -1.414214
C -1.789267 -1.03916 -2 -0.530406 -2 0
C -2 0.530406 -1.789267 1.03916 -1.414214 1.414214
C -1.03916 1.789267 -0.530406 2 0 2
z
" transform="translate(213.48585 409.68)" style="fill: #ffffff; stroke: #2e5a87"/>
<path d="M 0 2
C 0.530406 2 1.03916 1.789267 1.414214 1.414214
C 1.789267 1.03916 2 0.530406 2 0
C 2 -0.530406 1.789267 -1.03916 1.414214 -1.414214
C 1.03916 -1.789267 0.530406 -2 0 -2
C -0.530406 -2 -1.03916 -1.789267 -1.414214 -1.414214
C -1.789267 -1.03916 -2 -0.530406 -2 0
C -2 0.530406 -1.789267 1.03916 -1.414214 1.414214
C -1.03916 1.789267 -0.530406 2 0 2
z
" transform="translate(214.727 410.04)" style="fill: #ffffff; stroke: #2e5a87"/>
<path d="M 0 2
C 0.530406 2 1.03916 1.789267 1.414214 1.414214
C 1.789267 1.03916 2 0.530406 2 0
C 2 -0.530406 1.789267 -1.03916 1.414214 -1.414214
C 1.03916 -1.789267 0.530406 -2 0 -2
C -0.530406 -2 -1.03916 -1.789267 -1.414214 -1.414214
C -1.789267 -1.03916 -2 -0.530406 -2 0
C -2 0.530406 -1.789267 1.03916 -1.414214 1.414214
C -1.03916 1.789267 -0.530406 2 0 2
z
" transform="translate(215.96815 380.232)" style="fill: #ffffff; stroke: #2e5a87"/>
<path d="M 0 2
C 0.530406 2 1.03916 1.789267 1.414214 1.414214
C 1.789267 1.03916 2 0.530406 2 0
C 2 -0.530406 1.789267 -1.03916 1.414214 -1.414214
C 1.03916 -1.789267 0.530406 -2 0 -2
C -0.530406 -2 -1.03916 -1.789267 -1.414214 -1.414214
C -1.789267 -1.03916 -2 -0.530406 -2 0
C -2 0.530406 -1.789267 1.03916 -1.414214 1.414214
C -1.03916 1.789267 -0.530406 2 0 2
z
" transform="translate(217.2093 373.08)" style="fill: #ffffff; stroke: #2e5a87"/>
<path d="M 0 2
C 0.530406 2 1.03916 1.789267 1.414214 1.414214
C 1.789267 1.03916 2 0.530406 2 0
C 2 -0.530406 1.789267 -1.03916 1.414214 -1.414214
C 1.03916 -1.789267 0.530406 -2 0 -2
C -0.530406 -2 -1.03916 -1.789267 -1.414214 -1.414214
C -1.789267 -1.03916 -2 -0.530406 -2 0
C -2 0.530406 -1.789267 1.03916 -1.414214 1.414214
C -1.03916 1.789267 -0.530406 2 0 2
z
" transform="translate(218.45045 386.544)" style="fill: #ffffff; stroke: #2e5a87"/>
<path d="M 0 2
C 0.530406 2 1.03916 1.789267 1.414214 1.414214
C 1.789267 1.03916 2 0.530406 2 0
C 2 -0.530406 1.789267 -1.03916 1.414214 -1.414214
C 1.03916 -1.789267 0.530406 -2 0 -2
C -0.530406 -2 -1.03916 -1.789267 -1.414214 -1.414214
C -1.789267 -1.03916 -2 -0.530406 -2 0
C -2 0.530406 -1.789267 1.03916 -1.414214 1.414214
C -1.03916 1.789267 -0.530406 2 0 2
z
" transform="translate(219.6916 365.352)" style="fill: #ffffff; stroke: #2e5a87"/>
<path d="M 0 2
C 0.530406 2 1.03916 1.789267 1.414214 1.414214
C 1.789267 1.03916 2 0.530406 2 0
C 2 -0.530406 1.789267 -1.03916 1.414214 -1.414214
C 1.03916 -1.789267 0.530406 -2 0 -2
C -0.530406 -2 -1.03916 -1.789267 -1.414214 -1.414214
C -1.789267 -1.03916 -2 -0.530406 -2 0
C -2 0.530406 -1.789267 1.03916 -1.414214 1.414214
C -1.03916 1.789267 -0.530406 2 0 2
z
" transform="translate(220.93275 347.184)" style="fill: #ffffff; stroke: #2e5a87"/>
<path d="M 0 2
C 0.530406 2 1.03916 1.789267 1.414214 1.414214
C 1.789267 1.03916 2 0.530406 2 0
C 2 -0.530406 1.789267 -1.03916 1.414214 -1.414214
C 1.03916 -1.789267 0.530406 -2 0 -2
C -0.530406 -2 -1.03916 -1.789267 -1.414214 -1.414214
C -1.789267 -1.03916 -2 -0.530406 -2 0
C -2 0.530406 -1.789267 1.03916 -1.414214 1.414214
C -1.03916 1.789267 -0.530406 2 0 2
z
" transform="translate(222.1739 365.088)" style="fill: #ffffff; stroke: #2e5a87"/>
<path d="M 0 2
C 0.530406 2 1.03916 1.789267 1.414214 1.414214
C 1.789267 1.03916 2 0.530406 2 0
C 2 -0.530406 1.789267 -1.03916 1.414214 -1.414214
C 1.03916 -1.789267 0.530406 -2 0 -2
C -0.530406 -2 -1.03916 -1.789267 -1.414214 -1.414214
C -1.789267 -1.03916 -2 -0.530406 -2 0
C -2 0.530406 -1.789267 1.03916 -1.414214 1.414214
C -1.03916 1.789267 -0.530406 2 0 2
z
" transform="translate(223.41505 368.064)" style="fill: #ffffff; stroke: #2e5a87"/>
<path d="M 0 2
C 0.530406 2 1.03916 1.789267 1.414214 1.414214
C 1.789267 1.03916 2 0.530406 2 0
C 2 -0.530406 1.789267 -1.03916 1.414214 -1.414214
C 1.03916 -1.789267 0.530406 -2 0 -2
C -0.530406 -2 -1.03916 -1.789267 -1.414214 -1.414214
C -1.789267 -1.03916 -2 -0.530406 -2 0
C -2 0.530406 -1.789267 1.03916 -1.414214 1.414214
C -1.03916 1.789267 -0.530406 2 0 2
z
" transform="translate(224.6562 346.92)" style="fill: #ffffff; stroke: #2e5a87"/>
<path d="M 0 2
C 0.530406 2 1.03916 1.789267 1.414214 1.414214
C 1.789267 1.03916 2 0.530406 2 0
C 2 -0.530406 1.789267 -1.03916 1.414214 -1.414214
C 1.03916 -1.789267 0.530406 -2 0 -2
C -0.530406 -2 -1.03916 -1.789267 -1.414214 -1.414214
C -1.789267 -1.03916 -2 -0.530406 -2 0
C -2 0.530406 -1.789267 1.03916 -1.414214 1.414214
C -1.03916 1.789267 -0.530406 2 0 2
z
" transform="translate(225.89735 351.264)" style="fill: #ffffff; stroke: #2e5a87"/>
<path d="M 0 2
C 0.530406 2 1.03916 1.789267 1.414214 1.414214
C 1.789267 1.03916 2 0.530406 2 0
C 2 -0.530406 1.789267 -1.03916 1.414214 -1.414214
C 1.03916 -1.789267 0.530406 -2 0 -2
C -0.530406 -2 -1.03916 -1.789267 -1.414214 -1.414214
C -1.789267 -1.03916 -2 -0.530406 -2 0
C -2 0.530406 -1.789267 1.03916 -1.414214 1.414214
C -1.03916 1.789267 -0.530406 2 0 2
z
" transform="translate(227.1385 367.056)" style="fill: #ffffff; stroke: #2e5a87"/>
<path d="M 0 2
C 0.530406 2 1.03916 1.789267 1.414214 1.414214
C 1.789267 1.03916 2 0.530406 2 0
C 2 -0.530406 1.789267 -1.03916 1.414214 -1.414214
C 1.03916 -1.789267 0.530406 -2 0 -2
C -0.530406 -2 -1.03916 -1.789267 -1.414214 -1.414214
C -1.789267 -1.03916 -2 -0.530406 -2 0
C -2 0.530406 -1.789267 1.03916 -1.414214 1.414214
C -1.03916 1.789267 -0.530406 2 0 2
z
" transform="translate(228.37965 355.008)" style="fill: #ffffff; stroke: #2e5a87"/>
<path d="M 0 2
C 0.530406 2 1.03916 1.789267 1.414214 1.414214
C 1.789267 1.03916 2 0.530406 2 0
C 2 -0.530406 1.789267 -1.03916 1.414214 -1.414214
C 1.03916 -1.789267 0.530406 -2 0 -2
C -0.530406 -2 -1.03916 -1.789267 -1.414214 -1.414214
C -1.789267 -1.03916 -2 -0.530406 -2 0
C -2 0.530406 -1.789267 1.03916 -1.414214 1.414214
C -1.03916 1.789267 -0.530406 2 0 2
z
" transform="translate(229.6208 349.896)" style="fill: #ffffff; stroke: #2e5a87"/>
<path d="M 0 2
C 0.530406 2 1.03916 1.789267 1.414214 1.414214
C 1.789267 1.03916 2 0.530406 2 0
C 2 -0.530406 1.789267 -1.03916 1.414214 -1.414214
C 1.03916 -1.789267 0.530406 -2 0 -2
C -0.530406 -2 -1.03916 -1.789267 -1.414214 -1.414214
C -1.789267 -1.03916 -2 -0.530406 -2 0
C -2 0.530406 -1.789267 1.03916 -1.414214 1.414214
C -1.03916 1.789267 -0.530406 2 0 2
z
" transform="translate(230.86195 369.552)" style="fill: #ffffff; stroke: #2e5a87"/>
<path d="M 0 2
C 0.530406 2 1.03916 1.789267 1.414214 1.414214
C 1.789267 1.03916 2 0.530406 2 0
C 2 -0.530406 1.789267 -1.03916 1.414214 -1.414214
C 1.03916 -1.789267 0.530406 -2 0 -2
C -0.530406 -2 -1.03916 -1.789267 -1.414214 -1.414214
C -1.789267 -1.03916 -2 -0.530406 -2 0
C -2 0.530406 -1.789267 1.03916 -1.414214 1.414214
C -1.03916 1.789267 -0.530406 2 0 2
z
" transform="translate(232.1031 370.392)" style="fill: #ffffff; stroke: #2e5a87"/>
<path d="M 0 2
C 0.530406 2 1.03916 1.789267 1.414214 1.414214
C 1.789267 1.03916 2 0.530406 2 0
C 2 -0.530406 1.789267 -1.03916 1.414214 -1.414214
C 1.03916 -1.789267 0.530406 -2 0 -2
C -0.530406 -2 -1.03916 -1.789267 -1.414214 -1.414214
C -1.789267 -1.03916 -2 -0.530406 -2 0
C -2 0.530406 -1.789267 1.03916 -1.414214 1.414214
C -1.03916 1.789267 -0.530406 2 0 2
z
" transform="translate(233.34425 361.944)" style="fill: #ffffff; stroke: #2e5a87"/>
<path d="M 0 2
C 0.530406 2 1.03916 1.789267 1.414214 1.414214
C 1.789267 1.03916 2 0.530406 2 0
C 2 -0.530406 1.789267 -1.03916 1.414214 -1.414214
C 1.03916 -1.789267 0.530406 -2 0 -2
C -0.530406 -2 -1.03916 -1.789267 -1.414214 -1.414214
C -1.789267 -1.03916 -2 -0.530406 -2 0
C -2 0.530406 -1.789267 1.03916 -1.414214 1.414214
C -1.03916 1.789267 -0.530406 2 0 2
z
" transform="translate(234.5854 376.68)" style="fill: #ffffff; stroke: #2e5a87"/>
<path d="M 0 2
C 0.530406 2 1.03916 1.789267 1.414214 1.414214
C 1.789267 1.03916 2 0.530406 2 0
C 2 -0.530406 1.789267 -1.03916 1.414214 -1.414214
C 1.03916 -1.789267 0.530406 -2 0 -2
C -0.530406 -2 -1.03916 -1.789267 -1.414214 -1.414214
C -1.789267 -1.03916 -2 -0.530406 -2 0
C -2 0.530406 -1.789267 1.03916 -1.414214 1.414214
C -1.03916 1.789267 -0.530406 2 0 2
z
" transform="translate(235.82655 387.216)" style="fill: #ffffff; stroke: #2e5a87"/>
<path d="M 0 2
C 0.530406 2 1.03916 1.789267 1.414214 1.414214
C 1.789267 1.03916 2 0.530406 2 0
C 2 -0.530406 1.789267 -1.03916 1.414214 -1.414214
C 1.03916 -1.789267 0.530406 -2 0 -2
C -0.530406 -2 -1.03916 -1.789267 -1.414214 -1.414214
C -1.789267 -1.03916 -2 -0.530406 -2 0
C -2 0.530406 -1.789267 1.03916 -1.414214 1.414214
C -1.03916 1.789267 -0.530406 2 0 2
z
" transform="translate(237.0677 378.72)" style="fill: #ffffff; stroke: #2e5a87"/>
<path d="M 0 2
C 0.530406 2 1.03916 1.789267 1.414214 1.414214
C 1.789267 1.03916 2 0.530406 2 0
C 2 -0.530406 1.789267 -1.03916 1.414214 -1.414214
C 1.03916 -1.789267 0.530406 -2 0 -2
C -0.530406 -2 -1.03916 -1.789267 -1.414214 -1.414214
C -1.789267 -1.03916 -2 -0.530406 -2 0
C -2 0.530406 -1.789267 1.03916 -1.414214 1.414214
C -1.03916 1.789267 -0.530406 2 0 2
z
" transform="translate(238.30885 389.352)" style="fill: #ffffff; stroke: #2e5a87"/>
<path d="M 0 2
C 0.530406 2 1.03916 1.789267 1.414214 1.414214
C 1.789267 1.03916 2 0.530406 2 0
C 2 -0.530406 1.789267 -1.03916 1.414214 -1.414214
C 1.03916 -1.789267 0.530406 -2 0 -2
C -0.530406 -2 -1.03916 -1.789267 -1.414214 -1.414214
C -1.789267 -1.03916 -2 -0.530406 -2 0
C -2 0.530406 -1.789267 1.03916 -1.414214 1.414214
C -1.03916 1.789267 -0.530406 2 0 2
z
" transform="translate(239.55 410.016)" style="fill: #ffffff; stroke: #2e5a87"/>
<path d="M 0 2
C 0.530406 2 1.03916 1.789267 1.414214 1.414214
C 1.789267 1.03916 2 0.530406 2 0
C 2 -0.530406 1.789267 -1.03916 1.414214 -1.414214
C 1.03916 -1.789267 0.530406 -2 0 -2
C -0.530406 -2 -1.03916 -1.789267 -1.414214 -1.414214
C -1.789267 -1.03916 -2 -0.530406 -2 0
C -2 0.530406 -1.789267 1.03916 -1.414214 1.414214
C -1.03916 1.789267 -0.530406 2 0 2
z
" transform="translate(240.79115 408)" style="fill: #ffffff; stroke: #2e5a87"/>
<path d="M 0 2
C 0.530406 2 1.03916 1.789267 1.414214 1.414214
C 1.789267 1.03916 2 0.530406 2 0
C 2 -0.530406 1.789267 -1.03916 1.414214 -1.414214
C 1.03916 -1.789267 0.530406 -2 0 -2
C -0.530406 -2 -1.03916 -1.789267 -1.414214 -1.414214
C -1.789267 -1.03916 -2 -0.530406 -2 0
C -2 0.530406 -1.789267 1.03916 -1.414214 1.414214
C -1.03916 1.789267 -0.530406 2 0 2
z
" transform="translate(242.0323 412.008)" style="fill: #ffffff; stroke: #2e5a87"/>
<path d="M 0 2
C 0.530406 2 1.03916 1.789267 1.414214 1.414214
C 1.789267 1.03916 2 0.530406 2 0
C 2 -0.530406 1.789267 -1.03916 1.414214 -1.414214
C 1.03916 -1.789267 0.530406 -2 0 -2
C -0.530406 -2 -1.03916 -1.789267 -1.414214 -1.414214
C -1.789267 -1.03916 -2 -0.530406 -2 0
C -2 0.530406 -1.789267 1.03916 -1.414214 1.414214
C -1.03916 1.789267 -0.530406 2 0 2
z
" transform="translate(243.27345 435.888)" style="fill: #ffffff; stroke: #2e5a87"/>
<path d="M 0 2
C 0.530406 2 1.03916 1.789267 1.414214 1.414214
C 1.789267 1.03916 2 0.530406 2 0
C 2 -0.530406 1.789267 -1.03916 1.414214 -1.414214
C 1.03916 -1.789267 0.530406 -2 0 -2
C -0.530406 -2 -1.03916 -1.789267 -1.414214 -1.414214
C -1.789267 -1.03916 -2 -0.530406 -2 0
C -2 0.530406 -1.789267 1.03916 -1.414214 1.414214
C -1.03916 1.789267 -0.530406 2 0 2
z
" transform="translate(244.5146 442.944)" style="fill: #ffffff; stroke: #2e5a87"/>
<path d="M 0 2
C 0.530406 2 1.03916 1.789267 1.414214 1.414214
C 1.789267 1.03916 2 0.530406 2 0
C 2 -0.530406 1.789267 -1.03916 1.414214 -1.414214
C 1.03916 -1.789267 0.530406 -2 0 -2
C -0.530406 -2 -1.03916 -1.789267 -1.414214 -1.414214
C -1.789267 -1.03916 -2 -0.530406 -2 0
C -2 0.530406 -1.789267 1.03916 -1.414214 1.414214
C -1.03916 1.789267 -0.530406 2 0 2
z
" transform="translate(245.75575 441.936)" style="fill: #ffffff; stroke: #2e5a87"/>
<path d="M 0 2
C 0.530406 2 1.03916 1.789267 1.414214 1.414214
C 1.789267 1.03916 2 0.530406 2 0
C 2 -0.530406 1.789267 -1.03916 1.414214 -1.414214
C 1.03916 -1.789267 0.530406 -2 0 -2
C -0.530406 -2 -1.03916 -1.789267 -1.414214 -1.414214
C -1.789267 -1.03916 -2 -0.530406 -2 0
C -2 0.530406 -1.789267 1.03916 -1.414214 1.414214
C -1.03916 1.789267 -0.530406 2 0 2
z
" transform="translate(246.9969 446.808)" style="fill: #ffffff; stroke: #2e5a87"/>
<path d="M 0 2
C 0.530406 2 1.03916 1.789267 1.414214 1.414214
C 1.789267 1.03916 2 0.530406 2 0
C 2 -0.530406 1.789267 -1.03916 1.414214 -1.414214
C 1.03916 -1.789267 0.530406 -2 0 -2
C -0.530406 -2 -1.03916 -1.789267 -1.414214 -1.414214
C -1.789267 -1.03916 -2 -0.530406 -2 0
C -2 0.530406 -1.789267 1.03916 -1.414214 1.414214
C -1.03916 1.789267 -0.530406 2 0 2
z
" transform="translate(248.23805 429.648)" style="fill: #ffffff; stroke: #2e5a87"/>
<path d="M 0 2
C 0.530406 2 1.03916 1.789267 1.414214 1.414214
C 1.789267 1.03916 2 0.530406 2 0
C 2 -0.530406 1.789267 -1.03916 1.414214 -1.414214
C 1.03916 -1.789267 0.530406 -2 0 -2
C -0.530406 -2 -1.03916 -1.789267 -1.414214 -1.414214
C -1.789267 -1.03916 -2 -0.530406 -2 0
C -2 0.530406 -1.789267 1.03916 -1.414214 1.414214
C -1.03916 1.789267 -0.530406 2 0 2
z
" transform="translate(249.4792 429.264)" style="fill: #ffffff; stroke: #2e5a87"/>
<path d="M 0 2
C 0.530406 2 1.03916 1.789267 1.414214 1.414214
C 1.789267 1.03916 2 0.530406 2 0
C 2 -0.530406 1.789267 -1.03916 1.414214 -1.414214
C 1.03916 -1.789267 0.530406 -2 0 -2
C -0.530406 -2 -1.03916 -1.789267 -1.414214 -1.414214
C -1.789267 -1.03916 -2 -0.530406 -2 0
C -2 0.530406 -1.789267 1.03916 -1.414214 1.414214
C -1.03916 1.789267 -0.530406 2 0 2
z
" transform="translate(250.72035 411.264)" style="fill: #ffffff; stroke: #2e5a87"/>
<path d="M 0 2
C 0.530406 2 1.03916 1.789267 1.414214 1.414214
C 1.789267 1.03916 2 0.530406 2 0
C 2 -0.530406 1.789267 -1.03916 1.414214 -1.414214
C 1.03916 -1.789267 0.530406 -2 0 -2
C -0.530406 -2 -1.03916 -1.789267 -1.414214 -1.414214
C -1.789267 -1.03916 -2 -0.530406 -2 0
C -2 0.530406 -1.789267 1.03916 -1.414214 1.414214
C -1.03916 1.789267 -0.530406 2 0 2
z
" transform="translate(251.9615 382.344)" style="fill: #ffffff; stroke: #2e5a87"/>
<path d="M 0 2
C 0.530406 2 1.03916 1.789267 1.414214 1.414214
C 1.789267 1.03916 2 0.530406 2 0
C 2 -0.530406 1.789267 -1.03916 1.414214 -1.414214
C 1.03916 -1.789267 0.530406 -2 0 -2
C -0.530406 -2 -1.03916 -1.789267 -1.414214 -1.414214
C -1.789267 -1.03916 -2 -0.530406 -2 0
C -2 0.530406 -1.789267 1.03916 -1.414214 1.414214
C -1.03916 1.789267 -0.530406 2 0 2
z
" transform="translate(253.20265 373.272)" style="fill: #ffffff; stroke: #2e5a87"/>
<path d="M 0 2
C 0.530406 2 1.03916 1.789267 1.414214 1.414214
C 1.789267 1.03916 2 0.530406 2 0
C 2 -0.530406 1.789267 -1.03916 1.414214 -1.414214
C 1.03916 -1.789267 0.530406 -2 0 -2
C -0.530406 -2 -1.03916 -1.789267 -1.414214 -1.414214
C -1.789267 -1.03916 -2 -0.530406 -2 0
C -2 0.530406 -1.789267 1.03916 -1.414214 1.414214
C -1.03916 1.789267 -0.530406 2 0 2
z
" transform="translate(254.4438 360.048)" style="fill: #ffffff; stroke: #2e5a87"/>
<path d="M 0 2
C 0.530406 2 1.03916 1.789267 1.414214 1.414214
C 1.789267 1.03916 2 0.530406 2 0
C 2 -0.530406 1.789267 -1.03916 1.414214 -1.414214
C 1.03916 -1.789267 0.530406 -2 0 -2
C -0.530406 -2 -1.03916 -1.789267 -1.414214 -1.414214
C -1.789267 -1.03916 -2 -0.530406 -2 0
C -2 0.530406 -1.789267 1.03916 -1.414214 1.414214
C -1.03916 1.789267 -0.530406 2 0 2
z
" transform="translate(255.68495 328.224)" style="fill: #ffffff; stroke: #2e5a87"/>
<path d="M 0 2
C 0.530406 2 1.03916 1.789267 1.414214 1.414214
C 1.789267 1.03916 2 0.530406 2 0
C 2 -0.530406 1.789267 -1.03916 1.414214 -1.414214
C 1.03916 -1.789267 0.530406 -2 0 -2
C -0.530406 -2 -1.03916 -1.789267 -1.414214 -1.414214
C -1.789267 -1.03916 -2 -0.530406 -2 0
C -2 0.530406 -1.789267 1.03916 -1.414214 1.414214
C -1.03916 1.789267 -0.530406 2 0 2
z
" transform="translate(256.9261 311.136)" style="fill: #ffffff; stroke: #2e5a87"/>
<path d="M 0 2
C 0.530406 2 1.03916 1.789267 1.414214 1.414214
C 1.789267 1.03916 2 0.530406 2 0
C 2 -0.530406 1.789267 -1.03916 1.414214 -1.414214
C 1.03916 -1.789267 0.530406 -2 0 -2
C -0.530406 -2 -1.03916 -1.789267 -1.414214 -1.414214
C -1.789267 -1.03916 -2 -0.530406 -2 0
C -2 0.530406 -1.789267 1.03916 -1.414214 1.414214
C -1.03916 1.789267 -0.530406 2 0 2
z
" transform="translate(258.16725 301.776)" style="fill: #ffffff; stroke: #2e5a87"/>
<path d="M 0 2
C 0.530406 2 1.03916 1.789267 1.414214 1.414214
C 1.789267 1.03916 2 0.530406 2 0
C 2 -0.530406 1.789267 -1.03916 1.414214 -1.414214
C 1.03916 -1.789267 0.530406 -2 0 -2
C -0.530406 -2 -1.03916 -1.789267 -1.414214 -1.414214
C -1.789267 -1.03916 -2 -0.530406 -2 0
C -2 0.530406 -1.789267 1.03916 -1.414214 1.414214
C -1.03916 1.789267 -0.530406 2 0 2
z
" transform="translate(259.4084 269.064)" style="fill: #ffffff; stroke: #2e5a87"/>
<path d="M 0 2
C 0.530406 2 1.03916 1.789267 1.414214 1.414214
C 1.789267 1.03916 2 0.530406 2 0
C 2 -0.530406 1.789267 -1.03916 1.414214 -1.414214
C 1.03916 -1.789267 0.530406 -2 0 -2
C -0.530406 -2 -1.03916 -1.789267 -1.414214 -1.414214
C -1.789267 -1.03916 -2 -0.530406 -2 0
C -2 0.530406 -1.789267 1.03916 -1.414214 1.414214
C -1.03916 1.789267 -0.530406 2 0 2
z
" transform="translate(260.64955 238.128)" style="fill: #ffffff; stroke: #2e5a87"/>
<path d="M 0 2
C 0.530406 2 1.03916 1.789267 1.414214 1.414214
C 1.789267 1.03916 2 0.530406 2 0
C 2 -0.530406 1.789267 -1.03916 1.414214 -1.414214
C 1.03916 -1.789267 0.530406 -2 0 -2
C -0.530406 -2 -1.03916 -1.789267 -1.414214 -1.414214
C -1.789267 -1.03916 -2 -0.530406 -2 0
C -2 0.530406 -1.789267 1.03916 -1.414214 1.414214
C -1.03916 1.789267 -0.530406 2 0 2
z
" transform="translate(261.8907 228.816)" style="fill: #ffffff; stroke: #2e5a87"/>
<path d="M 0 2
C 0.530406 2 1.03916 1.789267 1.414214 1.414214
C 1.789267 1.03916 2 0.530406 2 0
C 2 -0.530406 1.789267 -1.03916 1.414214 -1.414214
C 1.03916 -1.789267 0.530406 -2 0 -2
C -0.530406 -2 -1.03916 -1.789267 -1.414214 -1.414214
C -1.789267 -1.03916 -2 -0.530406 -2 0
C -2 0.530406 -1.789267 1.03916 -1.414214 1.414214
C -1.03916 1.789267 -0.530406 2 0 2
z
" transform="translate(263.13185 203.376)" style="fill: #ffffff; stroke: #2e5a87"/>
<path d="M 0 2
C 0.530406 2 1.03916 1.789267 1.414214 1.414214
C 1.789267 1.03916 2 0.530406 2 0
C 2 -0.530406 1.789267 -1.03916 1.414214 -1.414214
C 1.03916 -1.789267 0.530406 -2 0 -2
C -0.530406 -2 -1.03916 -1.789267 -1.414214 -1.414214
C -1.789267 -1.03916 -2 -0.530406 -2 0
C -2 0.530406 -1.789267 1.03916 -1.414214 1.414214
C -1.03916 1.789267 -0.530406 2 0 2
z
" transform="translate(264.373 375.48)" style="fill: #ffffff; stroke: #2e5a87"/>
<path d="M 0 2
C 0.530406 2 1.03916 1.789267 1.414214 1.414214
C 1.789267 1.03916 2 0.530406 2 0
C 2 -0.530406 1.789267 -1.03916 1.414214 -1.414214
C 1.03916 -1.789267 0.530406 -2 0 -2
C -0.530406 -2 -1.03916 -1.789267 -1.414214 -1.414214
C -1.789267 -1.03916 -2 -0.530406 -2 0
C -2 0.530406 -1.789267 1.03916 -1.414214 1.414214
C -1.03916 1.789267 -0.530406 2 0 2
z
" transform="translate(265.61415 255.936)" style="fill: #ffffff; stroke: #2e5a87"/>
<path d="M 0 2
C 0.530406 2 1.03916 1.789267 1.414214 1.414214
C 1.789267 1.03916 2 0.530406 2 0
C 2 -0.530406 1.789267 -1.03916 1.414214 -1.414214
C 1.03916 -1.789267 0.530406 -2 0 -2
C -0.530406 -2 -1.03916 -1.789267 -1.414214 -1.414214
C -1.789267 -1.03916 -2 -0.530406 -2 0
C -2 0.530406 -1.789267 1.03916 -1.414214 1.414214
C -1.03916 1.789267 -0.530406 2 0 2
z
" transform="translate(266.8553 80.208)" style="fill: #ffffff; stroke: #2e5a87"/>
<path d="M 0 2
C 0.530406 2 1.03916 1.789267 1.414214 1.414214
C 1.789267 1.03916 2 0.530406 2 0
C 2 -0.530406 1.789267 -1.03916 1.414214 -1.414214
C 1.03916 -1.789267 0.530406 -2 0 -2
C -0.530406 -2 -1.03916 -1.789267 -1.414214 -1.414214
C -1.789267 -1.03916 -2 -0.530406 -2 0
C -2 0.530406 -1.789267 1.03916 -1.414214 1.414214
C -1.03916 1.789267 -0.530406 2 0 2
z
" transform="translate(268.09645 456.696)" style="fill: #ffffff; stroke: #2e5a87"/>
<path d="M 0 2
C 0.530406 2 1.03916 1.789267 1.414214 1.414214
C 1.789267 1.03916 2 0.530406 2 0
C 2 -0.530406 1.789267 -1.03916 1.414214 -1.414214
C 1.03916 -1.789267 0.530406 -2 0 -2
C -0.530406 -2 -1.03916 -1.789267 -1.414214 -1.414214
C -1.789267 -1.03916 -2 -0.530406 -2 0
C -2 0.530406 -1.789267 1.03916 -1.414214 1.414214
C -1.03916 1.789267 -0.530406 2 0 2
z
" transform="translate(269.3376 421.464)" style="fill: #ffffff; stroke: #2e5a87"/>
</g>
</g>
<g id="line2d_48">
<path d="M 268.152 478.08
L 268.152 61.2
" clip-path="url(#pb68194b71a)" style="fill: none; stroke-dasharray: 11.1,4.8; stroke-dashoffset: 0; stroke: #c41e3a; stroke-opacity: 0.8; stroke-width: 3"/>
</g>
<g id="patch_60">
<path d="M 51.6 478.08
L 51.6 61.2
" style="fill: none; stroke: #000000; stroke-width: 1.5; stroke-linejoin: miter; stroke-linecap: square"/>
</g>
<g id="patch_61">
<path d="M 959.04 478.08
L 959.04 61.2
" style="fill: none; stroke: #000000; stroke-width: 1.5; stroke-linejoin: miter; stroke-linecap: square"/>
</g>
<g id="patch_62">
<path d="M 51.6 478.08
L 959.04 478.08
" style="fill: none; stroke: #000000; stroke-width: 1.5; stroke-linejoin: miter; stroke-linecap: square"/>
</g>
<g id="patch_63">
<path d="M 51.6 61.2
L 959.04 61.2
" style="fill: none; stroke: #000000; stroke-width: 1.5; stroke-linejoin: miter; stroke-linecap: square"/>
</g>
<g id="ti">
<g transform="translate(-0.0960 -0.0000)"><text style="font-weight: 700; font-size: 18px; font-family: 'DejaVu Serif', serif" transform="translate(327.195 20.704)">Orbit Determination Error Analysis</text></g>
<g transform="translate(-0.0000 0.0120)"><text style="font-weight: 700; font-size: 18px; font-family: 'DejaVu Serif', serif" transform="translate(379.455 41.2)">FORMOSAT 3E - seg_002</text></g>
</g>
<g id="legend_1">
<g id="patch_64">
<path d="M 714.89 176.6
L 951.24 176.6
Q 954.04 176.6 954.04 173.8
L 954.04 73
Q 954.04 70.2 951.24 70.2
L 714.89 70.2
Q 712.09 70.2 712.09 73
L 712.09 173.8
Q 712.09 176.6 714.89 176.6
z
" style="fill: #4d4d4d; fill-opacity: 0.5; stroke-opacity: 0.5; stroke: #4d4d4d; stroke-width: 1.2; stroke-linejoin: miter"/>
</g>
<g id="patch_65">
<path d="M 712.89 174.6
L 949.24 174.6
Q 952.04 174.6 952.04 171.8
L 952.04 71
Q 952.04 68.2 949.24 68.2
L 712.89 68.2
Q 710.09 68.2 710.09 71
L 710.09 171.8
Q 710.09 174.6 712.89 174.6
z
" style="fill: #ffffff; fill-opacity: 0.9; stroke-opacity: 0.9; stroke: #000000; stroke-width: 1.2; stroke-linejoin: miter"/>
</g>
<g id="line2d_49">
<path d="M 715.69 79.46
L 729.69 79.46
L 743.69 79.46
" style="fill: none; stroke: #2e5a87; stroke-width: 2.5; stroke-linecap: square"/>
<g>
<path d="M 0 2
C 0.530406 2 1.03916 1.789267 1.414214 1.414214
C 1.789267 1.03916 2 0.530406 2 0
C 2 -0.530406 1.789267 -1.03916 1.414214 -1.414214
C 1.03916 -1.789267 0.530406 -2 0 -2
C -0.530406 -2 -1.03916 -1.789267 -1.414214 -1.414214
C -1.789267 -1.03916 -2 -0.530406 -2 0
C -2 0.530406 -1.789267 1.03916 -1.414214 1.414214
C -1.03916 1.789267 -0.530406 2 0 2
z
" transform="translate(729.69 79.46)" style="fill: #ffffff; stroke: #2e5a87"/>
</g>
</g>
<g id="lt0">
<g transform="translate(-0.0000 0.2160)"><text style="font-size: 14px; font-family: 'DejaVu Serif', serif; text-anchor: start" x="754.89" y="84.36" transform="rotate(-0 754.89 84.36)">Position Error (Est - Truth)</text></g>
</g>
<g id="patch_66">
<path d="M 715.69 104.8
L 743.69 104.8
L 743.69 95
L 715.69 95
z
" style="fill: #ffd700; fill-opacity: 0.4; stroke-opacity: 0.4; stroke: #ffd700; stroke-linejoin: miter"/>
</g>
<g id="lt1">
<g transform="translate(-0.1200 0.0120)"><text style="font-size: 14px; font-family: 'DejaVu Serif', serif; text-anchor: start" x="754.89" y="104.8" transform="rotate(-0 754.89 104.8)">OD Data Interval</text></g>
</g>
<g id="line2d_50">
<path d="M 715.69 120.34
L 729.69 120.34
L 743.69 120.34
" style="fill: none; stroke-dasharray: 11.1,4.8; stroke-dashoffset: 0; stroke: #c41e3a; stroke-opacity: 0.8; stroke-width: 3"/>
</g>
<g id="lt2">
<g transform="translate(-0.1440 -0.0120)"><text style="font-size: 14px; font-family: 'DejaVu Serif', serif; text-anchor: start" x="754.89" y="125.24" transform="rotate(-0 754.89 125.24)">OD Epoch</text></g>
</g>
<g id="patch_67">
<path d="M 715.69 145.68
L 743.69 145.68
L 743.69 135.88
L 715.69 135.88
z
" style="fill: #228b22; fill-opacity: 0.8; stroke-opacity: 0.8; stroke: #228b22; stroke-linejoin: miter"/>
</g>
<g id="lt3">
<g transform="translate(-0.0840 -0.0000)"><text style="font-size: 14px; font-family: 'DejaVu Serif', serif; text-anchor: start" x="754.89" y="145.68" transform="rotate(-0 754.89 145.68)">Laser Pass</text></g>
</g>
<g id="patch_68">
<path d="M 715.69 166.12
L 743.69 166.12
L 743.69 156.32
L 715.69 156.32
z
" style="fill: #4169e1; fill-opacity: 0.8; stroke-opacity: 0.8; stroke: #4169e1; stroke-linejoin: miter"/>
</g>
<g id="lt4">
<g transform="translate(-0.1200 0.0120)"><text style="font-size: 14px; font-family: 'DejaVu Serif', serif; text-anchor: start" x="754.89" y="166.12" transform="rotate(-0 754.89 166.12)">Optical Pass</text></g>
</g>
</g>
</g>
</g>
<defs>
<clipPath id="pb68194b71a">
<rect x="51.6" y="61.2" width="907.44" height="416.88"/>
</clipPath>
</defs>
</svg>

</body></html>
